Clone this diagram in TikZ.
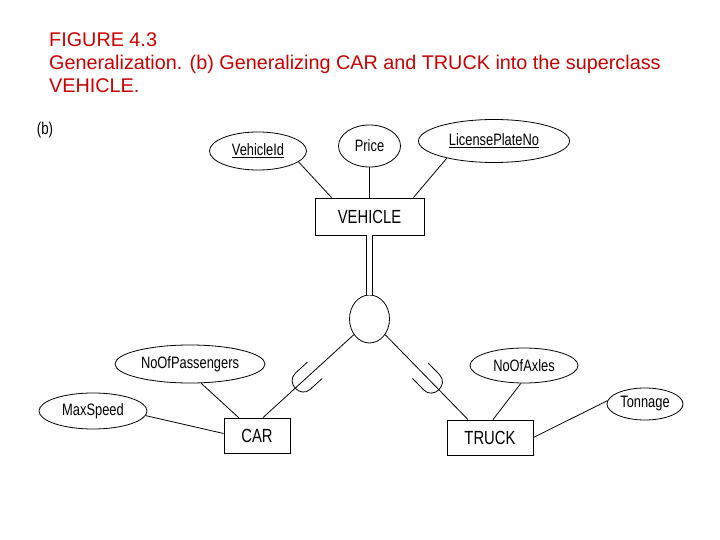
\documentclass[tikz,border=0pt]{standalone}
\usepackage{fontspec}
\setmainfont{Liberation Sans}
\newfontfamily\erfont[FakeStretch=0.78]{Liberation Sans}
\usetikzlibrary{calc,shapes.geometric}
\definecolor{figred}{RGB}{204,0,0}
\tikzset{
  entbox/.style={draw, line width=0.8pt, inner sep=0pt,
                 font=\erfont\fontsize{19}{22}\selectfont},
  attr/.style={ellipse, draw, line width=0.8pt, inner sep=0pt,
               font=\erfont\fontsize{16.5}{19}\selectfont},
  erline/.style={draw, line width=0.8pt},
  subset/.pic={
    \draw[line width=0.8pt] (-16,-11) -- (0,-11) .. controls (14,-11) and (14,11) .. (0,11) -- (-16,11);
  },
}

\begin{document}
\begin{tikzpicture}[x=1pt,y=-1pt]
\useasboundingbox (0,0) rectangle (720,540);
\node[anchor=north west, align=left, text=figred, font=\fontsize{19.8}{23.4}\selectfont, inner sep=0pt] (title) at (49,32)
  {FIGURE 4.3\\Generalization. (b) Generalizing CAR and TRUCK into the superclass\\VEHICLE.};
\node[font=\erfont\fontsize{17}{19}\selectfont] (tag) at (45,130) {(b)};
% superclass and its attributes
\node[entbox, minimum width=109pt, minimum height=37pt] (vehicle) at (369.5,216.5) {VEHICLE};
\node[attr, minimum width=97pt, minimum height=38pt] (vid) at (258,151) {\underline{VehicleId}};
\node[attr, minimum width=62pt, minimum height=42pt] (price) at (369.5,146) {Price};
\node[attr, minimum width=151pt, minimum height=43pt] (lpn) at (494,141) {\underline{LicensePlateNo}};
\draw[erline] (vid.-15) -- ([xshift=17pt]vehicle.north west);
\draw[erline] (price.south) -- (vehicle.north);
\draw[erline] (lpn.200) -- ([xshift=-11pt]vehicle.north east);
% generalization circle
\node[ellipse, draw, line width=0.8pt, minimum width=40pt, minimum height=48pt, inner sep=0pt] (gen) at (369.5,319) {};
\draw[line width=0.8pt, double, double distance=5pt] (vehicle.south) -- (gen.north);
% subclasses
\node[entbox, minimum width=66pt, minimum height=35pt] (car) at (257,435.5) {CAR};
\node[entbox, minimum width=86pt, minimum height=35pt] (truck) at (490,437.5) {TRUCK};
\draw[erline] (gen.225) -- ([xshift=6pt]car.north) pic[pos=0.56, sloped, allow upside down] {subset};
\draw[erline] (gen.-45) -- ([xshift=-22pt]truck.north) pic[pos=0.56, sloped, allow upside down] {subset};
% subclass attributes
\node[attr, minimum width=150pt, minimum height=38pt] (nop) at (190,364) {NoOfPassengers};
\node[attr, minimum width=108pt, minimum height=36pt] (ms) at (93,411) {MaxSpeed};
\node[attr, minimum width=108pt, minimum height=35pt] (noa) at (524,365.5) {NoOfAxles};
\node[attr, minimum width=76pt, minimum height=32pt] (ton) at (645,404) {Tonnage};
\draw[erline] (nop.-60) -- ([xshift=15pt]car.north west);
\draw[erline] (ms.-5) -- ([yshift=2pt]car.west);
\draw[erline] (noa.-100) -- ([xshift=3pt]truck.north);
\draw[erline] (ton.175) -- (truck.east);
\end{tikzpicture}
\end{document}
